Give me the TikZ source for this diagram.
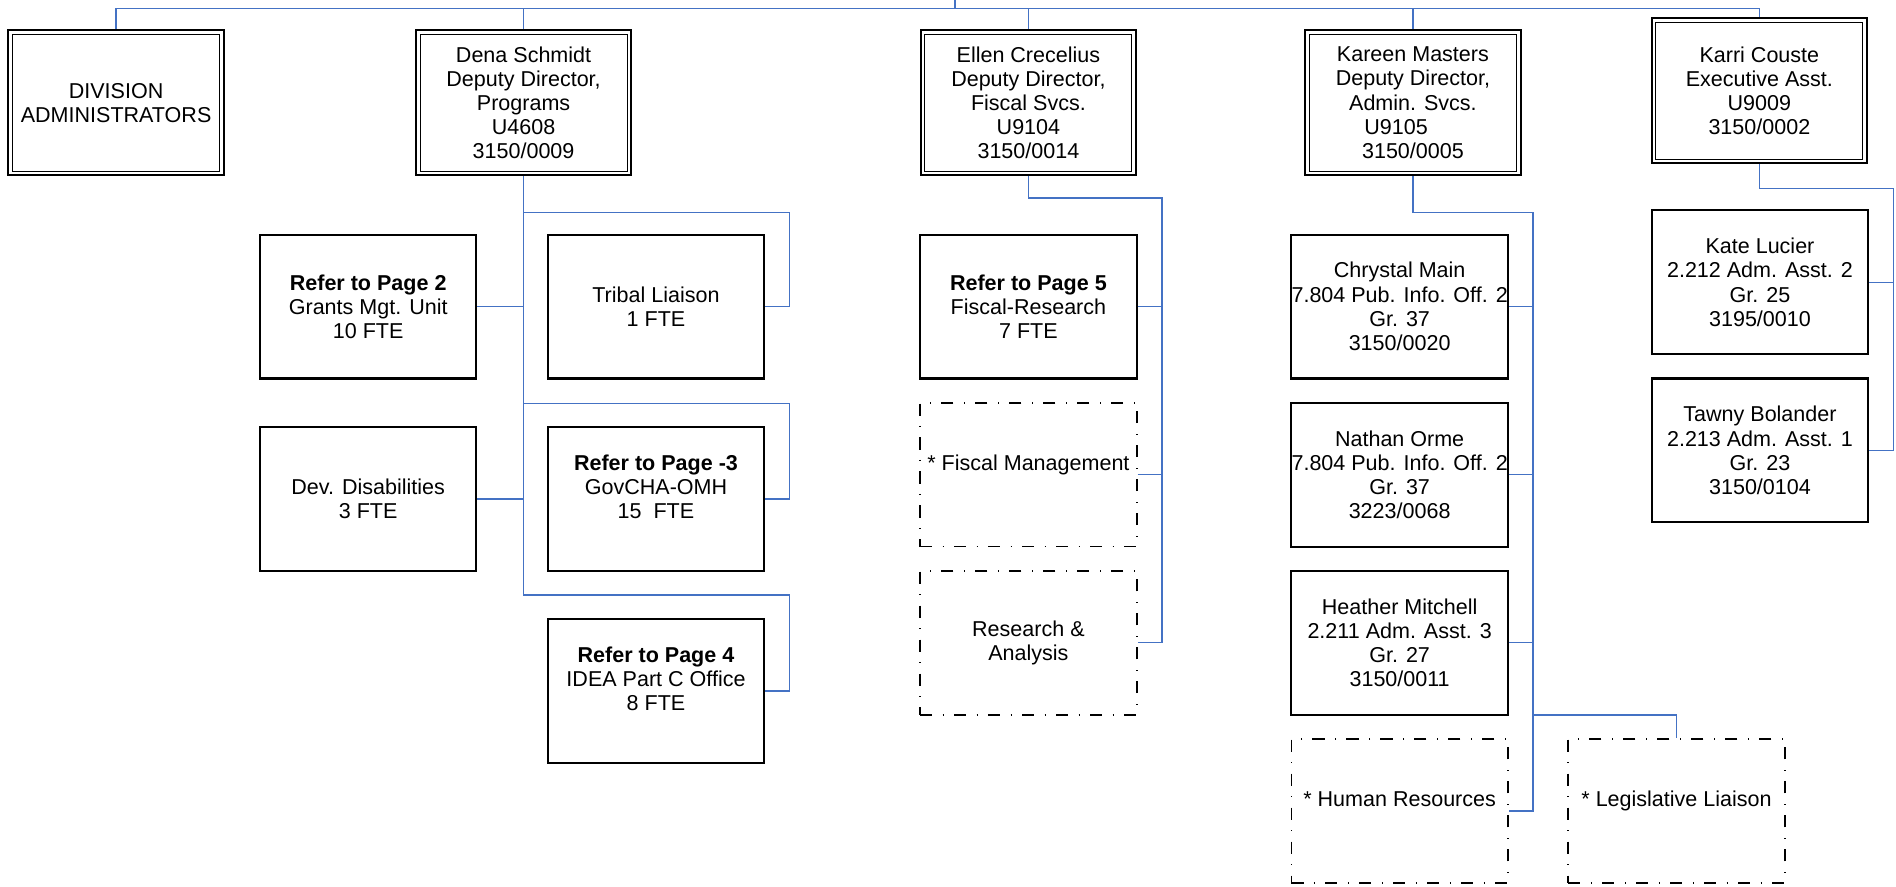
\documentclass[tikz,border=0pt]{standalone}
\usepackage{fontspec}
\setmainfont{Liberation Sans}
\usetikzlibrary{calc}
\definecolor{connblue}{RGB}{68,114,196}
\begin{document}
\begin{tikzpicture}[x=0.5pt,y=-0.5pt,
  every node/.style={font=\fontsize{8.9}{10}\selectfont, align=center, inner sep=0pt},
  dbl/.style={draw, line width=0.85pt, minimum width=89pt, minimum height=60pt,
    path picture={\draw[line width=0.45pt]
      ([shift={(1.7pt,1.7pt)}]path picture bounding box.south west) rectangle
      ([shift={(-1.7pt,-1.7pt)}]path picture bounding box.north east);}},
  box/.style={draw, line width=0.85pt, minimum width=89.5pt, minimum height=59.5pt},
  dd/.style={draw, line width=0.75pt, dash pattern=on 5pt off 4.3pt on 0.45pt off 4.3pt,
    minimum width=89.5pt, minimum height=59.5pt},
  conn/.style={draw=connblue, line width=0.65pt}]
\useasboundingbox (0,0) rectangle (1568,733);

% top row
\node[dbl] (div) at (96,85) {DIVISION\\ADMINISTRATORS};
\node[dbl] (dena) at (433,85) {Dena Schmidt\\Deputy Director,\\Programs\\U4608\\3150/0009};
\node[dbl] (ellen) at (850.5,85) {Ellen Crecelius\\Deputy Director,\\Fiscal Svcs.\\U9104\\3150/0014};
\node[dbl] (kareen) at (1168.5,85) {Kareen Masters\\Deputy Director,\\Admin. Svcs.\\\makebox[0pt]{\hspace*{-14pt}U9105}\\3150/0005};
\node[dbl] (karri) at (1455,75) {Karri Couste\\Executive Asst.\\U9009\\3150/0002};

% Dena's units
\node[box] (grants) at (304.5,253.5) {\textbf{Refer to Page 2}\\Grants Mgt. Unit\\10 FTE};
\node[box] (tribal) at (542.5,253.5) {Tribal Liaison\\1 FTE};
\node[box] (devdis) at (304.5,412.5) {Dev. Disabilities\\3 FTE};
\node[box] (govcha) at (542.5,412.5) {\textbf{Refer to Page -3}\\GovCHA-OMH\\15\ \ FTE\\\mbox{}};
\node[box] (idea) at (542.5,571.5) {\textbf{Refer to Page 4}\\IDEA Part C Office\\8 FTE\\\mbox{}};

% Ellen's units
\node[box] (fiscalr) at (850.5,253.5) {\textbf{Refer to Page 5}\\Fiscal-Research\\7 FTE};
\node[dd] (fiscalm) at (850.5,392.5) {* Fiscal Management\\\mbox{}};
\node[dd] (research) at (850.5,531.5) {Research \&\\Analysis};

% Kareen's units
\node[box] (chrystal) at (1157.5,253.5) {Chrystal Main\\7.804 Pub. Info. Off. 2\\Gr. 37\\3150/0020};
\node[box] (nathan) at (1157.5,392.5) {Nathan Orme\\7.804 Pub. Info. Off. 2\\Gr. 37\\3223/0068};
\node[box] (heather) at (1157.5,531.5) {Heather Mitchell\\2.211 Adm. Asst. 3\\Gr. 27\\3150/0011};
\node[dd] (hr) at (1157.5,670.5) {* Human Resources\\\mbox{}};
\node[dd] (legis) at (1386.5,670.5) {* Legislative Liaison\\\mbox{}};

% Karri's units
\node[box] (kate) at (1455.5,233.5) {Kate Lucier\\2.212 Adm. Asst. 2\\Gr. 25\\3195/0010};
\node[box] (tawny) at (1455.5,372.5) {Tawny Bolander\\2.213 Adm. Asst. 1\\Gr. 23\\3150/0104};

% top bus
\coordinate (root) at (790,0);
\coordinate (bus) at (790,7);
\draw[conn] (root) -- (bus);
\draw[conn] (div.north) |- (bus) -| (karri.north);
\foreach \n in {dena,ellen,kareen} \draw[conn] (\n.north) -- (\n.north |- bus);

% Dena
\draw[conn] (dena.south) -- ++(0,346) -| ($(idea.east)+(20,0)$) -- (idea.east);
\draw[conn] ($(dena.south)+(0,30)$) -| ($(tribal.east)+(20,0)$) -- (tribal.east);
\draw[conn] ($(dena.south)+(0,188)$) -| ($(govcha.east)+(20,0)$) -- (govcha.east);
\draw[conn] (grants.east) -- (grants.east -| dena.south);
\draw[conn] (devdis.east) -- (devdis.east -| dena.south);

% Ellen
\draw[conn] (ellen.south) -- ++(0,18) -| ($(research.east)+(20,0)$) -- (research.east);
\draw[conn] (fiscalr.east) -- ++(20,0);
\draw[conn] (fiscalm.east) -- ++(20,0);

% Kareen
\draw[conn] (kareen.south) -- ++(0,30) -| ($(hr.east)+(20,0)$) -- (hr.east);
\draw[conn] (chrystal.east) -- ++(20,0);
\draw[conn] (nathan.east) -- ++(20,0);
\draw[conn] (heather.east) -- ++(20,0);
\draw[conn] ($(heather.east)+(20,60)$) -| (legis.north);

% Karri
\draw[conn] (karri.south) -- ++(0,20) -| ($(tawny.east)+(20,0)$) -- (tawny.east);
\draw[conn] (kate.east) -- ++(20,0);
\end{tikzpicture}
\end{document}
